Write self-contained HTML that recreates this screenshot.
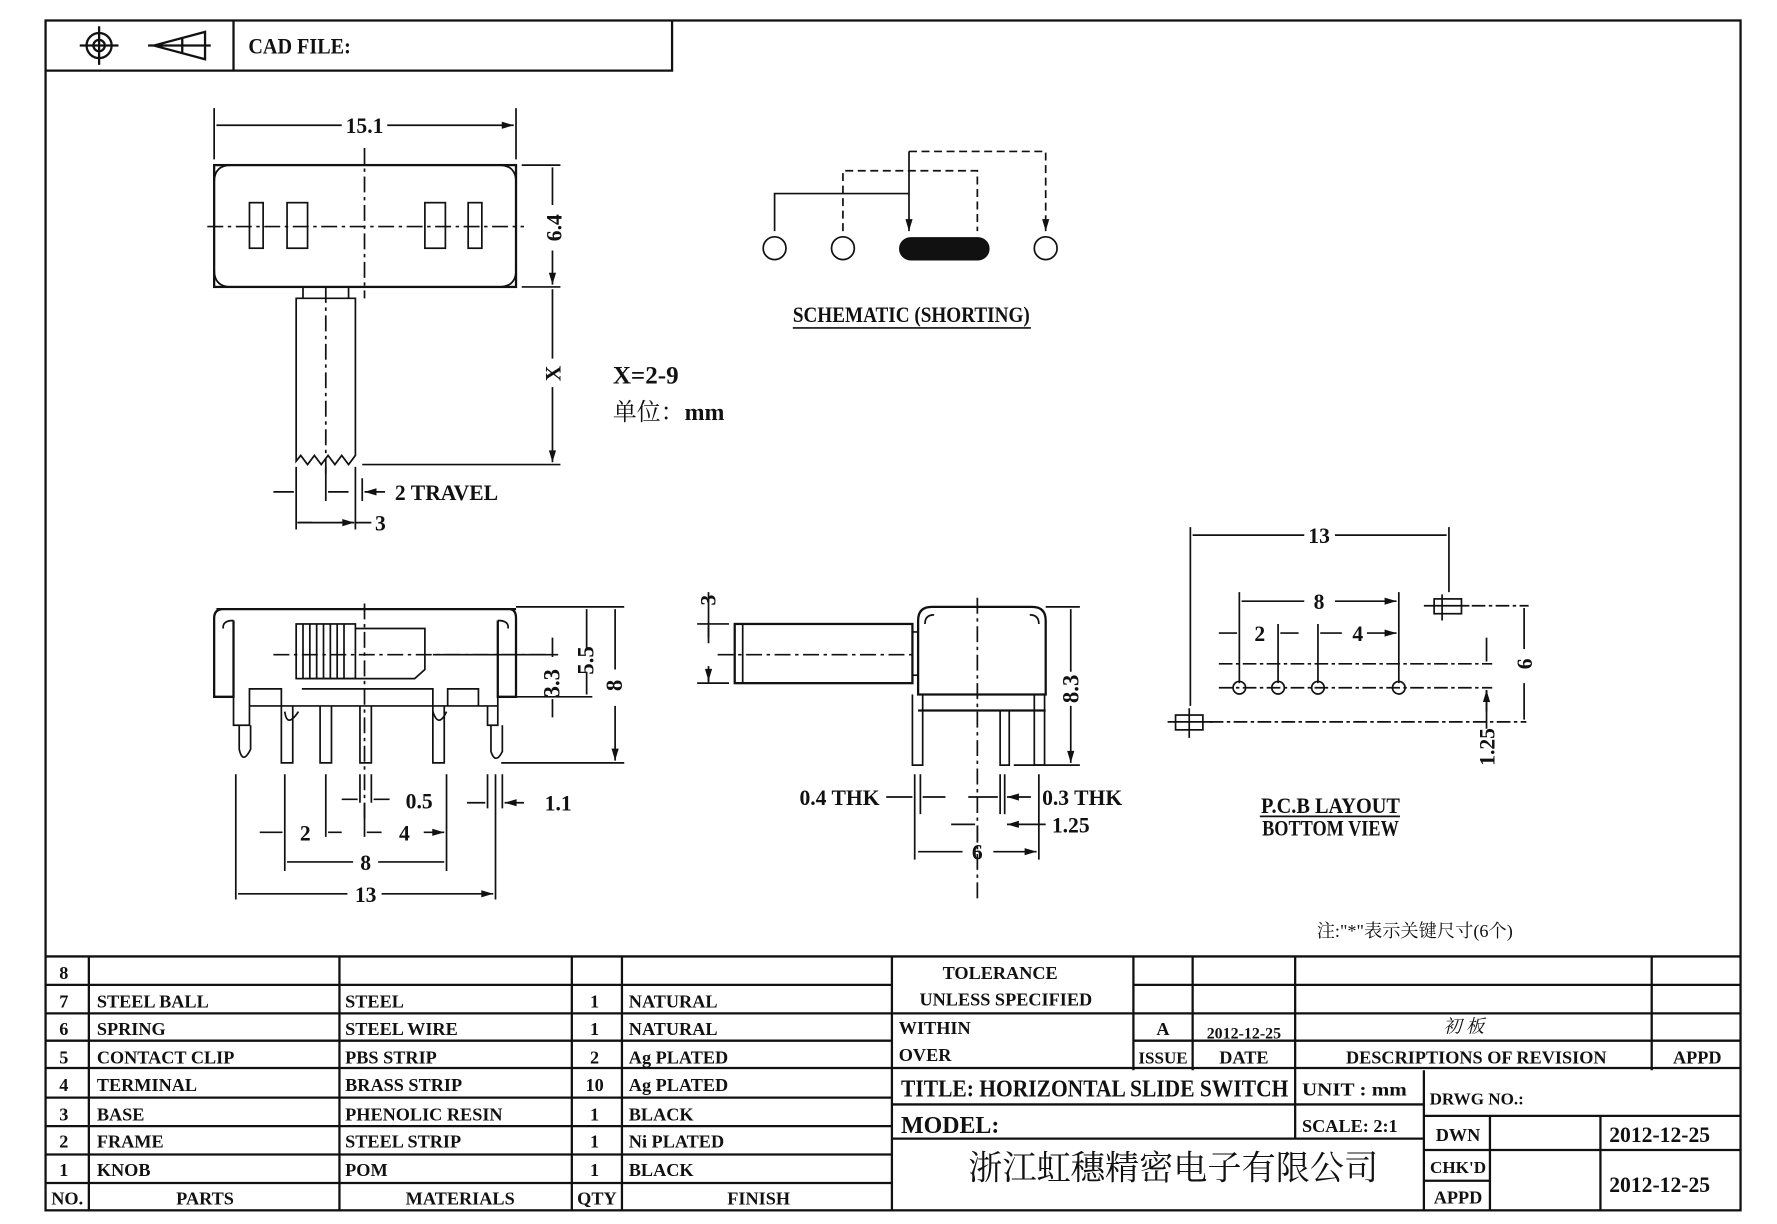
<!DOCTYPE html>
<html><head><meta charset="utf-8"><style>
html,body{margin:0;padding:0;background:#fff;}
svg{display:block}
text{font-family:"Liberation Sans Narrow","Liberation Serif","Noto Serif CJK SC",serif;font-weight:bold;fill:#111}
.c{font-family:"Liberation Serif","Noto Serif CJK SC",serif;font-weight:normal}
</style></head><body>
<svg width="1777" height="1224" viewBox="0 0 1560 1075" preserveAspectRatio="none" xmlns="http://www.w3.org/2000/svg">
<defs>
<marker id="a" viewBox="0 0 10 10" refX="10" refY="5" markerWidth="9" markerHeight="7" orient="auto-start-reverse"><path d="M0,2 L10,5 L0,8z" fill="#111"/></marker>
</defs>
<g fill="none" stroke="#111" stroke-width="2">
<rect x="40" y="18" width="1488" height="1045"/>
<path d="M40 62H590V18M205 18V62"/>
<circle cx="87" cy="40" r="11"/><circle cx="87" cy="40" r="5"/><path d="M70 40H104M87 23V57"/>
<path d="M135 40L180 28V52Z M160 33V47 M130 40H185"/>
<path d="M40 840H1528 M40 865H783 M995 865H1528 M40 890H1528 M40 914H783 M995 914H1528 M40 938H1528 M40 964H783 M40 989H783 M40 1014H783 M40 1039H783"/>
<path d="M78 840V1063 M298 840V1063 M502 840V1063 M546 840V1063 M783 840V1063 M995 840V940 M1047 840V940 M1137 840V1000 M1450 840V940"/>
<path d="M783 970H1250 M783 1000H1250 M1250 940V1063 M1250 980H1528 M1308 980V1063 M1405 980V1063 M1250 1010H1528 M1250 1037H1308"/>
</g>
<text x="218" y="47" font-size="19" textLength="90" lengthAdjust="spacingAndGlyphs">CAD FILE:</text>
<g font-size="16">
<text x="52" y="860">8</text><text x="52" y="885">7</text><text x="52" y="909">6</text><text x="52" y="934">5</text><text x="52" y="958">4</text><text x="52" y="984">3</text><text x="52" y="1008">2</text><text x="52" y="1033">1</text><text x="45" y="1058">NO.</text>
<text x="85" y="885">STEEL BALL</text><text x="85" y="909">SPRING</text><text x="85" y="934">CONTACT CLIP</text><text x="85" y="958">TERMINAL</text><text x="85" y="984">BASE</text><text x="85" y="1008">FRAME</text><text x="85" y="1033">KNOB</text><text x="180" y="1058" text-anchor="middle">PARTS</text>
<text x="303" y="885">STEEL</text><text x="303" y="909">STEEL WIRE</text><text x="303" y="934">PBS STRIP</text><text x="303" y="958">BRASS STRIP</text><text x="303" y="984">PHENOLIC RESIN</text><text x="303" y="1008">STEEL STRIP</text><text x="303" y="1033">POM</text><text x="404" y="1058" text-anchor="middle">MATERIALS</text>
<g text-anchor="middle"><text x="522" y="885">1</text><text x="522" y="909">1</text><text x="522" y="934">2</text><text x="522" y="958">10</text><text x="522" y="984">1</text><text x="522" y="1008">1</text><text x="522" y="1033">1</text><text x="524" y="1058">QTY</text></g>
<text x="552" y="885">NATURAL</text><text x="552" y="909">NATURAL</text><text x="552" y="934">Ag PLATED</text><text x="552" y="958">Ag PLATED</text><text x="552" y="984">BLACK</text><text x="552" y="1008">Ni PLATED</text><text x="552" y="1033">BLACK</text><text x="666" y="1058" text-anchor="middle">FINISH</text>
<text x="878" y="860" text-anchor="middle">TOLERANCE</text><text x="883" y="883" text-anchor="middle">UNLESS  SPECIFIED</text>
<text x="789" y="908">WITHIN</text><text x="789" y="932">OVER</text>
<text x="1021" y="909" text-anchor="middle">A</text><text x="1092" y="912" text-anchor="middle" font-size="14">2012-12-25</text>
<text x="1285" y="907" text-anchor="middle" class="c" font-style="italic">初 板</text>
<text x="1021" y="934" text-anchor="middle" font-size="15">ISSUE</text><text x="1092" y="934" text-anchor="middle">DATE</text><text x="1296" y="934" text-anchor="middle">DESCRIPTIONS OF REVISION</text><text x="1490" y="934" text-anchor="middle">APPD</text>
<text x="791" y="963" font-size="21" textLength="340" lengthAdjust="spacingAndGlyphs">TITLE: HORIZONTAL SLIDE SWITCH</text>
<text x="1143" y="962" textLength="92" lengthAdjust="spacingAndGlyphs">UNIT : mm</text>
<text x="791" y="995" font-size="21">MODEL:</text>
<text x="1143" y="994" textLength="84" lengthAdjust="spacingAndGlyphs">SCALE: 2:1</text>
<text x="1255" y="970" font-size="15">DRWG NO.:</text>
<text x="1280" y="1002" text-anchor="middle">DWN</text><text x="1280" y="1030" text-anchor="middle" font-size="15">CHK'D</text><text x="1280" y="1057" text-anchor="middle">APPD</text>
<text x="1457" y="1003" text-anchor="middle" font-size="19">2012-12-25</text><text x="1457" y="1047" text-anchor="middle" font-size="19">2012-12-25</text>
<text x="1030" y="1036" text-anchor="middle" class="c" font-size="30">浙江虹穗精密电子有限公司</text>
</g>

<g fill="none" stroke="#111" stroke-width="1.5">
<rect x="188" y="145" width="265" height="107" stroke-width="2"/>
<path d="M188 160Q188 145 203 145 M453 160Q453 145 438 145 M188 237Q188 252 203 252 M453 237Q453 252 438 252"/>
<path d="M320 130V262 M182 199H460" stroke-dasharray="14 4 3 4"/>
<rect x="219" y="178" width="12" height="40"/><rect x="252" y="178" width="18" height="40"/><rect x="373" y="178" width="18" height="40"/><rect x="411" y="178" width="12" height="40"/>
<path d="M188 140V95 M453 140V95"/>
<path d="M300 110H190 M340 110H451" marker-end="url(#a)"/>
<path d="M458 145H492 M458 252H492 M318 408H492"/>
<path d="M485 180V147 M485 220V250" marker-end="url(#a)"/>
<path d="M485 315V254 M485 340V406" marker-end="url(#a)"/>
<path d="M266 262H306V252 M266 262V252 M260 262H312 V400 L306 408 L300 400 L294 408 L288 400 L282 408 L276 400 L270 408 L264 400 L260 405 Z"/>
<path d="M286 252V420" stroke-dasharray="14 4 3 4"/>
<path d="M260 410V465 M286 410V440 M312 410V465 M318 420V440"/>
<path d="M240 432H258 M306 432H288 M338 432H320" marker-end="url(#a)"/>
<path d="M286 459H262 M286 459H310 M312 459H326"/>
<path d="M274 459H261 M298 459H311" marker-end="url(#a)"/>
<path d="M798 170H680V203 M798 133V203" marker-end="url(#a)"/>
<path d="M740 203V150H858V203 M798 133H918V203" stroke-dasharray="7 4" marker-end="url(#a)"/>
<circle cx="680" cy="218" r="10"/><circle cx="740" cy="218" r="10"/><circle cx="918" cy="218" r="10"/>
<rect x="790" y="209" width="78" height="19" rx="9.5" fill="#111"/>
<path d="M696 288H905"/>
<path d="M190 535H453 M196 535Q188 535 188 543V612H205V545 M447 535Q453 535 453 543V612H437V545" stroke-width="2"/>
<path d="M205 545Q195 545 196 552 M437 545Q447 545 446 552"/>
<path d="M219 620V605H247V620 M265 605H380V620 M393 620V605H420V620 M219 620H437 M205 612V637H219V620 M437 612V637H428V620"/>
<rect x="260" y="548" width="52" height="48"/>
<path d="M266 548V596M272 548V596M278 548V596M284 548V596M290 548V596M296 548V596M302 548V596"/>
<path d="M312 552H373V588L364 596H268"/>
<path d="M240 575H480 M320 530V720" stroke-dasharray="14 4 3 4"/>
<path d="M210 637V658Q213 672 220 658V637 M247 620V670H257V620 M281 620V670H291V620 M316 620V670H326V620 M380 620V670H390V620 M431 637V660Q435 672 441 660V637"/>
<path d="M250 625Q252 640 262 625 M380 625Q385 640 392 625"/>
<path d="M453 533H548 M380 575H490 M437 612H520 M440 670H548"/>
<path d="M485 560V577 M485 630V614 M515 570V535 M515 590V610 M540 588V535 M540 620V668" marker-end="url(#a)"/>
<path d="M207 680V790 M250 680V765 M286 680V735 M316 680V705 M326 680V705 M320 705V735 M392 680V765 M435 680V790 M428 680V710 M441 680V710"/>
<path d="M300 702H314 M342 702H328 M410 705H426 M460 705H443" marker-end="url(#a)"/>
<path d="M228 731H248 M300 731H288 M335 731H322 M372 731H390" marker-end="url(#a)"/>
<path d="M310 757H252 M332 757H390 M305 785H209 M335 785H433" marker-end="url(#a)"/>
<rect x="645" y="548" width="156" height="52" stroke-width="2"/><path d="M652 548V600 M801 555H806V593H801"/>
<path d="M630 575H806" stroke-dasharray="14 4 3 4"/>
<path d="M806 610V545Q806 533 818 533H906Q918 533 918 545V610Z M806 610H918 M806 624H918" stroke-width="2"/>
<path d="M812 548Q812 540 820 540 M912 548Q912 540 904 540"/>
<path d="M858 525V790" stroke-dasharray="14 4 3 4"/>
<path d="M801 610V672H810V610 M878 624V672H886V624 M908 610V672H917V610"/>
<path d="M612 548H640 M612 600H640 M622 520V560 M622 588V600"/>
<path d="M622 565V550 M622 585V598" marker-end="url(#a)"/>
<path d="M918 533H948 M890 672H948 M940 590V535 M940 620V670" marker-end="url(#a)"/>
<path d="M803 680V755 M808 680V715 M878 680V715 M882 680V715 M858 725V740 M912 680V755"/>
<path d="M778 700H801 M830 700H810 M850 700H876 M905 700H884" marker-end="url(#a)"/>
<path d="M835 724H856 M918 724H884" marker-end="url(#a)"/>
<path d="M845 748H806 M872 748H910" marker-end="url(#a)"/>
<path d="M1045 463V620 M1272 463V520"/>
<path d="M1145 470H1047 M1172 470H1270 M1145 528H1090 M1172 528H1226" marker-end="url(#a)"/>
<path d="M1088 520V600 M1228 520V600 M1122 548V600 M1157 548V600"/>
<path d="M1070 556H1086 M1140 556H1124 M1178 556H1159 M1200 556H1226" marker-end="url(#a)"/>
<rect x="1259" y="526" width="24" height="13"/><rect x="1032" y="628" width="24" height="13"/>
<path d="M1250 532H1290 M1025 634H1065 M1266 522V545 M1044 622V648"/>
<path d="M1070 583H1310 M1070 604H1310 M1062 634H1340 M1292 532H1342" stroke-dasharray="12 3 3 3"/>
<circle cx="1088" cy="604" r="5.5"/><circle cx="1122" cy="604" r="5.5"/><circle cx="1157" cy="604" r="5.5"/><circle cx="1228" cy="604" r="5.5"/>
<path d="M1338 570V534 M1338 600V632 M1305 560V581 M1305 625V606" marker-end="url(#a)"/>
<path d="M1305 606V640 M1106 717H1229"/>
</g>

<g font-size="19" text-anchor="middle">
<text x="320" y="117">15.1</text>
<text transform="translate(493,200) rotate(-90)">6.4</text>
<text transform="translate(492,328) rotate(-90)">X</text>
<text x="392" y="439">2 TRAVEL</text>
<text x="334" y="466">3</text>
<text x="538" y="337" text-anchor="start" font-size="22">X=2-9</text>
<text x="538" y="369" text-anchor="start" font-size="21" class="c">单位：<tspan font-family="Liberation Serif" font-weight="bold">mm</tspan></text>
<text x="800" y="283" font-size="19" textLength="208" lengthAdjust="spacingAndGlyphs">SCHEMATIC (SHORTING)</text>
<text transform="translate(491,600) rotate(-90)" font-size="20">3.3</text>
<text transform="translate(521,580) rotate(-90)" font-size="20">5.5</text>
<text transform="translate(546,602) rotate(-90)" font-size="20">8</text>
<text x="368" y="710">0.5</text><text x="490" y="712">1.1</text>
<text x="268" y="738">2</text><text x="355" y="738">4</text>
<text x="321" y="764">8</text><text x="321" y="792">13</text>
<text transform="translate(628,527) rotate(-90)">3</text>
<text transform="translate(947,605) rotate(-90)" font-size="20">8.3</text>
<text x="737" y="707">0.4 THK</text><text x="950" y="707">0.3 THK</text>
<text x="940" y="731">1.25</text><text x="858" y="755">6</text>
<text x="1158" y="477">13</text><text x="1158" y="535">8</text>
<text x="1106" y="563">2</text><text x="1192" y="563">4</text>
<text transform="translate(1345,583) rotate(-90)">6</text>
<text transform="translate(1312,656) rotate(-90)">1.25</text>
<text x="1168" y="714" textLength="122" lengthAdjust="spacingAndGlyphs">P.C.B LAYOUT</text>
<text x="1168" y="734" textLength="120" lengthAdjust="spacingAndGlyphs">BOTTOM VIEW</text>
<text x="1242" y="823" font-size="16" class="c">注:"*"表示关键尺寸(6个)</text>
</g>
</svg>
</body></html>
